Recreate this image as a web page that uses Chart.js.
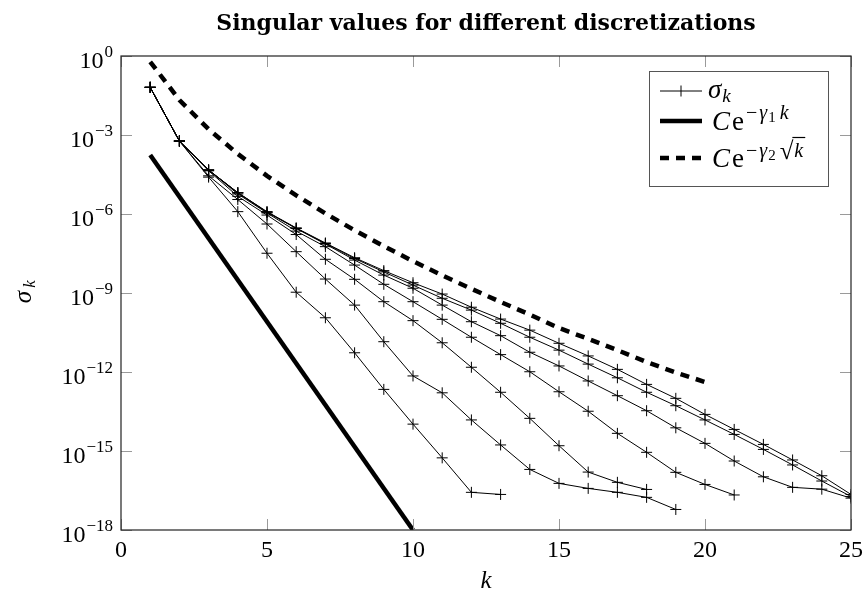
<!DOCTYPE html>
<html lang="en">
<head>
<meta charset="UTF-8">
<title>Singular values for different discretizations</title>
<script src="https://cdn.jsdelivr.net/npm/chart.js@4.4.0/dist/chart.umd.min.js"></script>
<style>
  body { margin: 0; background: #fff; }
  #chart { display: block; }
  .warm { position: absolute; left: -9999px; top: 0; }
</style>
</head>
<body>
<canvas id="chart" width="867" height="600"></canvas>
<div class="warm">
  <span style="font-family:'Liberation Serif'">10 σ k C e γ √</span>
  <span style="font-family:'Liberation Serif';font-style:italic">σ k C γ</span>
  <span style="font-family:'DejaVu Serif';font-weight:bold">Singular</span>
</div>
<script>
// k values shared by every sigma curve
const kValues = [1, 2, 3, 4, 5, 6, 7, 8, 9, 10, 11, 12, 13, 14, 15, 16, 17, 18, 19, 20, 21, 22, 23, 24, 25];

// log10(sigma_k) for each discretization
const sigmaA = [-1.19, -3.23, -4.33, -5.19, -5.91, -6.53, -7.10, -7.66, -8.15, -8.61, -9.04, -9.54, -9.99, -10.41, -10.91, -11.39, -11.90, -12.47, -13.00, -13.61, -14.18, -14.75, -15.34, -15.94, -16.65];
const sigmaB = [-1.19, -3.23, -4.33, -5.19, -5.93, -6.54, -7.12, -7.69, -8.20, -8.70, -9.20, -9.65, -10.15, -10.68, -11.17, -11.70, -12.22, -12.77, -13.28, -13.82, -14.37, -14.94, -15.53, -16.14, -16.73];
const sigmaC = [-1.19, -3.23, -4.33, -5.20, -5.93, -6.55, -7.14, -7.75, -8.32, -8.82, -9.46, -10.09, -10.62, -11.25, -11.77, -12.34, -12.90, -13.47, -14.12, -14.71, -15.38, -15.98, -16.38, -16.45, -16.79];
const sigmaD = [-1.19, -3.23, -4.33, -5.24, -5.96, -6.65, -7.24, -7.94, -8.67, -9.33, -10.00, -10.68, -11.34, -11.99, -12.75, -13.49, -14.33, -15.05, -15.81, -16.27, -16.67];
const sigmaE = [-1.19, -3.23, -4.36, -5.33, -6.04, -6.78, -7.72, -8.48, -9.33, -10.05, -10.89, -11.82, -12.77, -13.76, -14.80, -15.80, -16.19, -16.46];
const sigmaF = [-1.19, -3.23, -4.55, -5.45, -6.38, -7.43, -8.47, -9.46, -10.85, -12.15, -12.79, -13.82, -14.77, -15.70, -16.23, -16.42, -16.57, -16.76, -17.22];
const sigmaG = [-1.19, -3.23, -4.60, -5.91, -7.49, -8.97, -9.94, -11.27, -12.66, -13.98, -15.26, -16.57, -16.65];

// reference curves (log10 values)
const expK = [1, 10];
const expFit = [-3.76, -18];
const sqrtK = [1, 2, 3, 4, 5, 6, 7, 8, 9, 10, 11, 12, 13, 14, 15, 16, 17, 18, 19, 20];
const sqrtFit = [-0.22, -1.67, -2.78, -3.72, -4.55, -5.29, -5.98, -6.62, -7.22, -7.79, -8.33, -8.84, -9.34, -9.82, -10.33, -10.74, -11.17, -11.62, -12.02, -12.38];

// axis ticks
const xTicks = [0, 5, 10, 15, 20, 25];
const yTickExps = [0, -3, -6, -9, -12, -15, -18];

const SERIF = '"Liberation Serif", serif';
const TITLE_FONT = 'bold 22px "DejaVu Serif", serif';

function toPoints(ks, logs) {
    return logs.map((e, i) => ({ x: ks[i], y: Math.pow(10, e) }));
}

function sigmaSet(logs) {
    return {
        data: toPoints(kValues, logs),
        borderColor: '#000',
        borderWidth: 1,
        pointStyle: 'cross',
        pointRadius: 5.5,
        pointHoverRadius: 5.5,
        pointBorderColor: '#000',
        pointBorderWidth: 1,
        tension: 0,
        fill: false
    };
}

const datasets = [sigmaA, sigmaB, sigmaC, sigmaD, sigmaE, sigmaF, sigmaG].map(sigmaSet);
datasets.push({
    data: toPoints(expK, expFit),
    borderColor: '#000',
    borderWidth: 4.5,
    pointRadius: 0,
    tension: 0
});
datasets.push({
    data: toPoints(sqrtK, sqrtFit),
    borderColor: '#000',
    borderWidth: 4.5,
    borderDash: [9, 7],
    borderCapStyle: 'butt',
    pointRadius: 0,
    tension: 0
});

// draws frame, ticks, labels, title and legend (pgfplots look)
const decorations = {
    id: 'decorations',
    afterDraw(chart) {
        const { ctx, chartArea: a, scales: { x, y } } = chart;
        ctx.save();

        // tick marks inside the frame, on all four sides
        ctx.strokeStyle = '#9a9a9a';
        ctx.lineWidth = 1;
        xTicks.forEach(v => {
            const px = Math.round(x.getPixelForValue(v)) + 0.5;
            ctx.beginPath();
            ctx.moveTo(px, a.bottom); ctx.lineTo(px, a.bottom - 11);
            ctx.moveTo(px, a.top); ctx.lineTo(px, a.top + 11);
            ctx.stroke();
        });
        yTickExps.forEach(e => {
            const py = Math.round(y.getPixelForValue(Math.pow(10, e))) + 0.5;
            ctx.beginPath();
            ctx.moveTo(a.left, py); ctx.lineTo(a.left + 11, py);
            ctx.moveTo(a.right, py); ctx.lineTo(a.right - 11, py);
            ctx.stroke();
        });

        // frame
        ctx.strokeStyle = '#222';
        ctx.lineWidth = 1.2;
        ctx.strokeRect(a.left, a.top, a.right - a.left, a.bottom - a.top);

        ctx.fillStyle = '#000';
        ctx.textBaseline = 'alphabetic';

        // x tick labels
        ctx.font = '24px ' + SERIF;
        ctx.textAlign = 'center';
        xTicks.forEach(v => {
            ctx.fillText(String(v), x.getPixelForValue(v), a.bottom + 27);
        });

        // y tick labels 10^e
        ctx.textAlign = 'left';
        const right = a.left - 8;
        yTickExps.forEach(e => {
            const py = y.getPixelForValue(Math.pow(10, e));
            const sup = e === 0 ? '0' : '\u2212' + (-e);
            ctx.font = '17px ' + SERIF;
            const supW = ctx.measureText(sup).width;
            ctx.font = '24px ' + SERIF;
            const tenW = ctx.measureText('10').width;
            ctx.fillText('10', right - supW - tenW - 1, py + 12);
            ctx.font = '17px ' + SERIF;
            ctx.fillText(sup, right - supW, py + 1);
        });

        // axis titles
        ctx.textAlign = 'center';
        ctx.font = 'italic 25px ' + SERIF;
        ctx.fillText('k', (a.left + a.right) / 2, a.bottom + 58);
        ctx.save();
        ctx.translate(31, (a.top + a.bottom) / 2);
        ctx.rotate(-Math.PI / 2);
        ctx.font = 'italic 25px ' + SERIF;
        ctx.fillText('\u03c3', -4, 0);
        ctx.font = 'italic 17px ' + SERIF;
        ctx.fillText('k', 9, 4);
        ctx.restore();

        // title
        ctx.font = TITLE_FONT;
        ctx.fillText('Singular values for different discretizations', (a.left + a.right) / 2, 30);

        // legend
        const lx = 649.5, ly = 71.5, lw = 179, lh = 115;
        ctx.fillStyle = '#fff';
        ctx.fillRect(lx, ly, lw, lh);
        ctx.strokeStyle = '#555';
        ctx.lineWidth = 1;
        ctx.strokeRect(lx, ly, lw, lh);
        ctx.fillStyle = '#000';
        ctx.strokeStyle = '#000';

        const s0 = 660, s1 = 702, tx = 708;
        const r1 = 91, r2 = 121, r3 = 158;

        ctx.lineWidth = 1;
        ctx.beginPath();
        ctx.moveTo(s0, r1); ctx.lineTo(s1, r1);
        ctx.moveTo((s0 + s1) / 2, r1 - 5.5); ctx.lineTo((s0 + s1) / 2, r1 + 5.5);
        ctx.stroke();

        ctx.lineWidth = 4.5;
        ctx.beginPath();
        ctx.moveTo(s0, r2); ctx.lineTo(s1, r2);
        ctx.stroke();

        ctx.setLineDash([9, 7]);
        ctx.beginPath();
        ctx.moveTo(s0, r3); ctx.lineTo(s1, r3);
        ctx.stroke();
        ctx.setLineDash([]);

        ctx.textAlign = 'left';
        // sigma_k
        ctx.font = 'italic 27px ' + SERIF;
        ctx.fillText('\u03c3', tx, r1 + 7);
        let w = ctx.measureText('\u03c3').width;
        ctx.font = 'italic 19px ' + SERIF;
        ctx.fillText('k', tx + w + 1, r1 + 11);

        // C e^{-gamma_i ...}
        function ce(row) {
            let cx = tx + 4;
            ctx.font = 'italic 27px ' + SERIF;
            ctx.fillText('C', cx, row + 9);
            cx += ctx.measureText('C').width + 2;
            ctx.font = '27px ' + SERIF;
            ctx.fillText('e', cx, row + 9);
            cx += ctx.measureText('e').width + 1;
            return cx;
        }
        function supPart(cx, base, sub) {
            ctx.font = '20px ' + SERIF;
            ctx.fillText('\u2212', cx + 1, base);
            cx += ctx.measureText('\u2212').width + 3;
            ctx.font = 'italic 20px ' + SERIF;
            ctx.fillText('\u03b3', cx, base);
            cx += ctx.measureText('\u03b3').width + 1;
            ctx.font = '15px ' + SERIF;
            ctx.fillText(sub, cx, base + 3);
            cx += ctx.measureText(sub).width + 4;
            return cx;
        }
        let cx = ce(r2);
        cx = supPart(cx, r2 - 2, '1');
        ctx.font = 'italic 20px ' + SERIF;
        ctx.fillText('k', cx, r2 - 2);

        cx = ce(r3);
        cx = supPart(cx, r3 - 1, '2');
        ctx.font = '25px ' + SERIF;
        ctx.fillText('\u221a', cx, r3 + 1);
        cx += ctx.measureText('\u221a').width;
        ctx.font = 'italic 20px ' + SERIF;
        const kw = ctx.measureText('k').width;
        ctx.fillText('k', cx + 1, r3 - 1);
        ctx.lineWidth = 1.2;
        ctx.beginPath();
        ctx.moveTo(cx - 1, r3 - 20.5); ctx.lineTo(cx + kw + 3, r3 - 20.5);
        ctx.stroke();

        ctx.restore();
    }
};

function drawChart() {
    new Chart(document.getElementById('chart'), {
        type: 'line',
        data: { datasets },
        options: {
            responsive: false,
            animation: false,
            layout: { padding: { left: 121, right: 16, top: 56, bottom: 70 } },
            scales: {
                x: { type: 'linear', min: 0, max: 25, display: false },
                y: { type: 'logarithmic', min: 1e-18, max: 1, display: false }
            },
            plugins: {
                legend: { display: false },
                title: { display: false },
                tooltip: { enabled: false }
            }
        },
        plugins: [decorations]
    });
}

// make sure the local fonts are ready before the canvas text is drawn
const fontsToLoad = ['24px "Liberation Serif"', 'italic 24px "Liberation Serif"', TITLE_FONT];
Promise.all(fontsToLoad.map(f => document.fonts.load(f))).then(drawChart, drawChart);
</script>
</body>
</html>
